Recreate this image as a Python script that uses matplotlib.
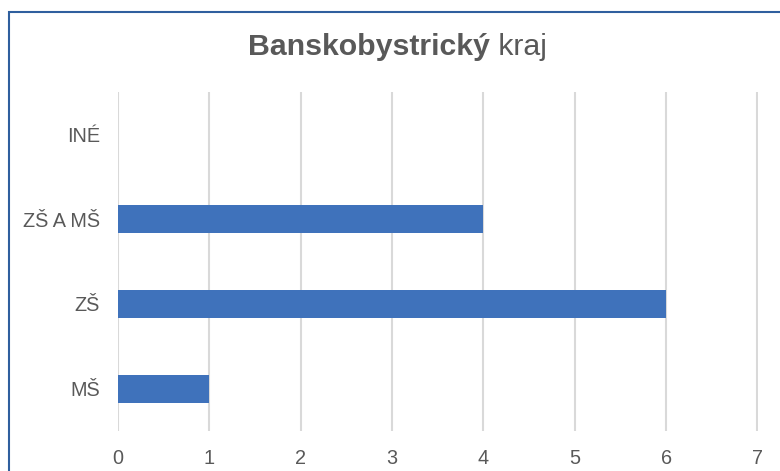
import matplotlib
matplotlib.use("Agg")
import matplotlib.pyplot as plt
from matplotlib.patches import Rectangle

categories = ["MŠ", "ZŠ", "ZŠ A MŠ", "INÉ"]
values = [1, 6, 4, 0]
x_ticks = [0, 1, 2, 3, 4, 5, 6, 7]

plt.rcParams['font.family'] = ['Liberation Sans', 'DejaVu Sans']

W, H = 780, 471
fig = plt.figure(figsize=(W/100, H/100), dpi=100)
ax = fig.add_axes([118/W, 1-431/H, (757.5-118)/W, (431-92)/H])

ypos = list(range(len(categories)))
ax.barh(ypos, values, height=0.33, color="#3F72BB", zorder=3)
ax.set_xlim(0, 7)
ax.set_ylim(-0.5, len(categories)-0.5)
ax.set_xticks(x_ticks)
ax.set_xticklabels([str(t) for t in x_ticks])
ax.set_yticks(ypos)
ax.set_yticklabels(categories)
for s in ax.spines.values():
    s.set_visible(False)
ax.tick_params(axis='both', length=0, labelsize=14.3, labelcolor="#595959")
ax.tick_params(axis='x', pad=13)
ax.tick_params(axis='y', pad=13)
ax.grid(axis='x', color="#D9D9D9", linewidth=1.5, zorder=0)
ax.set_axisbelow(True)

# border
fig.patches.append(Rectangle((9/W, -0.1), 1.2, 1-12/H+0.1, transform=fig.transFigure,
                             fill=False, edgecolor="#2F5F9E", linewidth=1.5, clip_on=False))

t1 = fig.text(0, 1-47/H, "Banskobystrický", fontsize=21.8, fontweight='bold', color="#595959",
              ha='left', va='center')
t2 = fig.text(0, 1-47/H, " kraj", fontsize=21.8, color="#595959", ha='left', va='center')
fig.canvas.draw()
r = fig.canvas.get_renderer()
w1 = t1.get_window_extent(r).width
w2 = t2.get_window_extent(r).width
cx = 397
start = cx - (w1 + w2) / 2
t1.set_x(start / W)
t2.set_x((start + w1) / W)

fig.savefig("out.png", dpi=100)
